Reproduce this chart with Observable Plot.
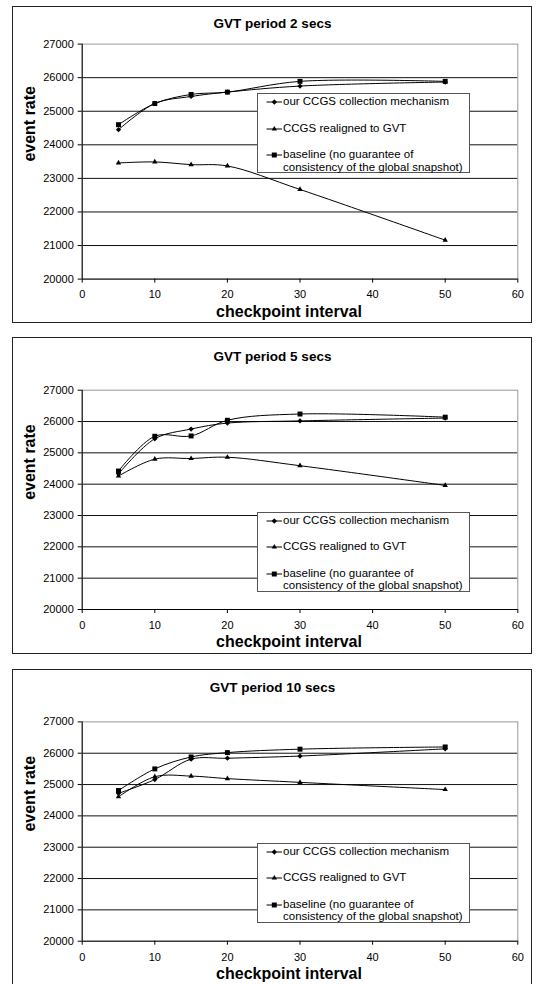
<!DOCTYPE html>
<html><head><meta charset="utf-8">
<script src="https://cdn.jsdelivr.net/npm/d3@7"></script>
<script src="https://cdn.jsdelivr.net/npm/@observablehq/plot@0.6"></script>
<style>
html,body{margin:0;padding:0;background:#fff;overflow:hidden;}
#root{position:relative;width:537px;height:984px;overflow:hidden;font-family:"Liberation Sans",Arial,sans-serif;color:#000;}
.box{position:absolute;left:12px;width:520px;height:317px;border:1.5px solid #222;box-sizing:border-box;}
.plot{position:absolute;left:0;overflow:visible;}
.legend{position:absolute;left:257px;width:213px;height:80px;border:1px solid #555;box-sizing:border-box;background:#fff;font-size:11.5px;}
.item{position:absolute;left:0;width:100%;}
.item svg{position:absolute;left:8px;top:-5px;}
.item .txt{position:absolute;left:25px;top:-7px;line-height:12.7px;white-space:nowrap;}
</style></head><body><div id="root"></div>
<script>
// ---- data ----
const checkpointInterval = [5, 10, 15, 20, 30, 50];
const panelTitles = ["GVT period 2 secs", "GVT period 5 secs", "GVT period 10 secs"];
const seriesNames = ["our CCGS collection mechanism", "CCGS realigned to GVT", "baseline (no guarantee of consistency of the global snapshot)"];
const legendLines = [["our CCGS collection mechanism"], ["CCGS realigned to GVT"], ["baseline (no guarantee of", "consistency of the global snapshot)"]];

const gvt2Ours      = [24450, 25230, 25440, 25570, 25750, 25870];
const gvt2Realigned = [23460, 23490, 23410, 23370, 22670, 21160];
const gvt2Baseline  = [24600, 25230, 25500, 25570, 25890, 25890];

const gvt5Ours      = [24330, 25450, 25760, 25950, 26020, 26110];
const gvt5Realigned = [24260, 24800, 24820, 24860, 24590, 23960];
const gvt5Baseline  = [24420, 25530, 25540, 26040, 26240, 26140];

const gvt10Ours      = [24720, 25160, 25810, 25840, 25910, 26140];
const gvt10Realigned = [24610, 25250, 25270, 25190, 25070, 24840];
const gvt10Baseline  = [24810, 25500, 25880, 26020, 26130, 26200];

const xTicks = [0, 10, 20, 30, 40, 50, 60];
const yTicks = [20000, 21000, 22000, 23000, 24000, 25000, 26000, 27000];
const gridLevels = [21000, 22000, 23000, 24000, 25000, 26000];
const xLabel = "checkpoint interval";
const yLabel = "event rate";

// ---- layout / style ----
const panelValues = [
  [gvt2Ours, gvt2Realigned, gvt2Baseline],
  [gvt5Ours, gvt5Realigned, gvt5Baseline],
  [gvt10Ours, gvt10Realigned, gvt10Baseline]
];
const layout = [
  {boxTop: 5.7, plotTop: 43.3, plotBottom: 278.3, titleY: 23.3, legendTop: 93},
  {boxTop: 337.3, plotTop: 390, plotBottom: 609.3, titleY: 356, legendTop: 511.7},
  {boxTop: 669.3, plotTop: 721.7, plotBottom: 941, titleY: 687.3, legendTop: 842.7}
];
const symbols = ["square", "triangle", "square"];
const rotations = [45, 0, 0];
const radii = [2.1, 2.0, 2.8];
const legendOffsets = [8, 34.5, 61];
const FONT = '"Liberation Sans", Arial, sans-serif';
const W = 537, H = 317;

const root = document.getElementById("root");

panelTitles.forEach((title, p) => {
  const L = layout[p];
  const rows = [];
  panelValues[p].forEach((vals, s) => vals.forEach((v, i) => rows.push({x: checkpointInterval[i], y: v, s: seriesNames[s]})));

  const box = document.createElement("div");
  box.className = "box";
  box.style.top = L.boxTop + "px";
  root.appendChild(box);

  const mt = L.plotTop - L.boxTop;
  const mb = H - (L.plotBottom - L.boxTop);
  const marks = [
    Plot.ruleY(gridLevels, {stroke: "#111", strokeWidth: 1}),
    Plot.frame({stroke: "#999", strokeWidth: 1}),
    Plot.ruleX([0], {stroke: "#000"}),
    Plot.ruleY([20000], {stroke: "#000"}),
    Plot.axisX(xTicks, {tickSize: 4, tickPadding: 7.5, label: null, fontSize: 11, tickFormat: d => String(d)}),
    Plot.axisY(yTicks, {tickSize: 4, tickPadding: 4.4, label: null, fontSize: 11, tickFormat: d => String(d)}),
    Plot.line(rows, {x: "x", y: "y", z: "s", curve: "catmull-rom", stroke: "#000", strokeWidth: 1})
  ];
  seriesNames.forEach((name, s) => {
    marks.push(Plot.dot(rows, {filter: d => d.s === name, x: "x", y: "y", symbol: symbols[s], rotate: rotations[s], r: radii[s], fill: "#000", stroke: "none"}));
  });
  marks.push(
    Plot.text([title], {frameAnchor: "top", lineAnchor: "middle", text: d => d, dy: L.titleY - L.plotTop, dx: 272 - 299.5, fontSize: 13.5, fontWeight: "bold"}),
    Plot.text([xLabel], {frameAnchor: "bottom", lineAnchor: "middle", text: d => d, dy: 32.4, dx: -11, fontSize: 16, fontWeight: "bold"}),
    Plot.text([yLabel], {frameAnchor: "left", lineAnchor: "middle", text: d => d, rotate: -90, dx: -(81.7 - 29), fontSize: 16, fontWeight: "bold"})
  );

  const svg = Plot.plot({
    width: W, height: H,
    marginLeft: 81.7, marginRight: 19.7, marginTop: mt, marginBottom: mb,
    style: {fontFamily: FONT, fontSize: "11px", background: "transparent", color: "#000", overflow: "visible"},
    x: {domain: [0, 60]},
    y: {domain: [20000, 27000]},
    marks
  });
  svg.classList.add("plot");
  svg.style.top = L.boxTop + "px";
  root.appendChild(svg);

  // legend
  const leg = document.createElement("div");
  leg.className = "legend";
  leg.style.top = L.legendTop + "px";
  legendLines.forEach((lines, s) => {
    const it = document.createElement("div");
    it.className = "item";
    it.style.top = legendOffsets[s] + "px";
    const sym = d3.symbol().type([d3.symbolSquare, d3.symbolTriangle, d3.symbolSquare][s]).size(Math.PI * radii[s] * radii[s])();
    it.innerHTML = `<svg width="18" height="10" viewBox="0 0 18 10"><line x1="0.5" x2="16" y1="5" y2="5" stroke="#000" stroke-width="1"/><path d="${sym}" transform="translate(8.3,5) rotate(${rotations[s]})" fill="#000"/></svg>` +
      `<div class="txt">${lines.join("<br>")}</div>`;
    leg.appendChild(it);
  });
  root.appendChild(leg);
});
</script></body></html>
